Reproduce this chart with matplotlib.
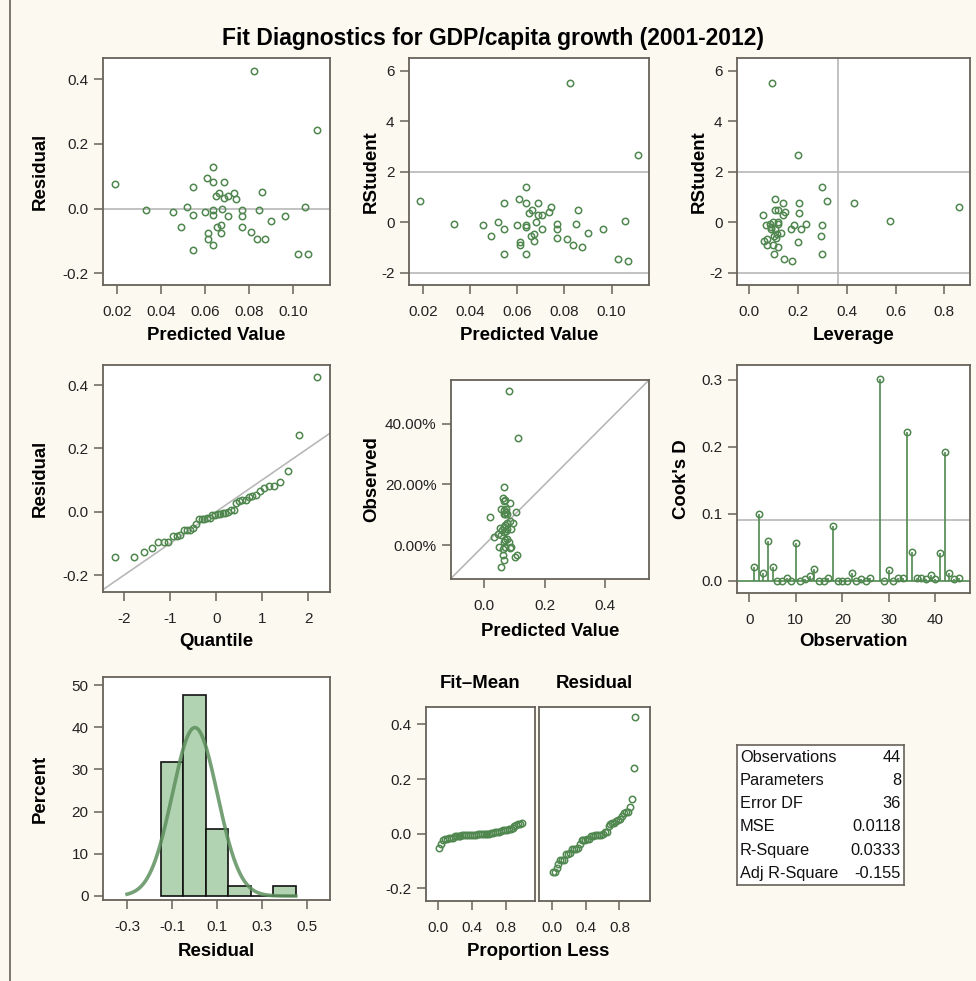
import numpy as np
import matplotlib.pyplot as plt
from statistics import NormalDist

plt.rcParams['font.family'] = ['Liberation Sans', 'DejaVu Sans']
plt.rcParams['axes.unicode_minus'] = False

# values, one entry per observation (sorted by predicted value)
predicted = [0.0189, 0.0331, 0.0455, 0.0490, 0.0519, 0.0546, 0.0546, 0.0546, 0.0601, 0.0607,
             0.0614, 0.0614, 0.0637, 0.0637, 0.0637, 0.0637, 0.0637, 0.0649, 0.0664, 0.0657,
             0.0672, 0.0672, 0.0678, 0.0686, 0.0686, 0.0707, 0.0707, 0.0734, 0.0742, 0.0769,
             0.0769, 0.0769, 0.0812, 0.0824, 0.0838, 0.0847, 0.0859, 0.0874, 0.0901, 0.0965,
             0.1026, 0.1055, 0.1068, 0.1111]
residual = [0.075, -0.005, -0.010, -0.057, 0.005, 0.066, -0.020, -0.127, -0.010, 0.096,
            -0.075, -0.095, 0.081, 0.128, -0.004, -0.019, -0.113, 0.039, 0.049, -0.057,
            -0.051, -0.075, 0.000, 0.081, 0.034, 0.039, -0.023, 0.047, 0.029, -0.004,
            -0.023, -0.057, -0.071, 0.426, -0.095, -0.005, 0.052, -0.095, -0.038, -0.023,
            -0.141, 0.005, -0.141, 0.242]
rstudent = [0.845, -0.066, -0.119, -0.541, 0.000, 0.779, -0.251, -1.267, -0.119, 0.911,
            -0.779, -0.911, 0.779, 1.386, -0.119, -0.185, -1.267, 0.356, 0.488, -0.541,
            -0.475, -0.739, 0.000, 0.779, 0.304, 0.304, -0.251, 0.422, 0.607, -0.066,
            -0.251, -0.607, -0.673, 5.505, -0.911, -0.066, 0.488, -0.977, -0.422, -0.251,
            -1.452, 0.053, -1.518, 2.653]
leverage = [0.318, 0.232, 0.300, 0.294, 0.098, 0.137, 0.171, 0.300, 0.183, 0.106,
            0.199, 0.074, 0.206, 0.300, 0.068, 0.090, 0.100, 0.206, 0.106, 0.100,
            0.115, 0.061, 0.120, 0.431, 0.055, 0.139, 0.213, 0.146, 0.859, 0.085,
            0.090, 0.110, 0.075, 0.094, 0.098, 0.120, 0.120, 0.120, 0.130, 0.105,
            0.143, 0.576, 0.175, 0.199]

obs_number = list(range(1, 27)) + list(range(28, 46))
cooks_d = [0.020, 0.100, 0.011, 0.059, 0.020, 0.000, 0.000, 0.0045, 0.000, 0.057,
           0.000, 0.0025, 0.007, 0.018, 0.000, 0.000, 0.0045, 0.082, 0.000, 0.000,
           0.000, 0.011, 0.000, 0.0025, 0.000, 0.0045, 0.302, 0.000, 0.0155, 0.000,
           0.0045, 0.0045, 0.222, 0.043, 0.0045, 0.0045, 0.0025, 0.009, 0.0025, 0.041,
           0.192, 0.011, 0.0025, 0.0045]

stat_names = ['Observations', 'Parameters', 'Error DF', 'MSE', 'R-Square', 'Adj R-Square']
stat_values = ['44', '8', '36', '0.0118', '0.0333', '-0.155']
n_obs, n_par = 44, 8

predicted = np.array(predicted)
residual = np.array(residual)
observed = predicted + residual

W, H = 976, 981
BG = '#FCF9F1'
FRAME = '#67625A'
GREEN = '#4F874F'
REF = '#B8B8B8'

fig = plt.figure(figsize=(W / 100, H / 100), dpi=100, facecolor=BG)


def box(l, r, t, b):
    ax = fig.add_axes([l / W, 1 - b / H, (r - l) / W, (b - t) / H])
    ax.px = (l, r, t, b)
    return ax


def style(ax, xl=None, yl=None, xl_y=None, yl_x=None):
    l, r, t, b = ax.px
    ax.set_facecolor('white')
    for s in ax.spines.values():
        s.set_color(FRAME)
        s.set_linewidth(1.3)
    ax.tick_params(direction='out', length=6.5, width=1.1, color=FRAME,
                   labelsize=11, labelcolor='#222222')
    ax.tick_params(axis='x', pad=8)
    ax.tick_params(axis='y', pad=4)
    if xl:
        ax.set_xlabel(xl, fontsize=13.4, fontweight='bold', va='center')
        ax.xaxis.set_label_coords(0.5, -(xl_y - b) / (b - t))
    if yl:
        ax.set_ylabel(yl, fontsize=13.4, fontweight='bold', va='center')
        ax.yaxis.set_label_coords((yl_x - l) / (r - l), 0.5)


def dots(ax, x, y):
    ax.plot(x, y, 'o', ms=4.6, mfc='none', mec=GREEN, mew=1.1, zorder=3)


def fmt(ax, xt, xlab, yt, ylab):
    ax.set_xticks(xt)
    ax.set_xticklabels(xlab)
    ax.set_yticks(yt)
    ax.set_yticklabels(ylab)


fig.text(493 / W, 1 - 38 / H, 'Fit Diagnostics for GDP/capita growth (2001-2012)',
         ha='center', va='center', fontsize=16.5, fontweight='bold')
fig.add_artist(plt.Line2D([10 / W, 10 / W], [0, 1], color=FRAME, lw=1.2))

# residual vs predicted
ax = box(103, 330, 58, 285)
ax.axhline(0, color=REF, lw=1.2, zorder=1)
dots(ax, predicted, residual)
ax.set_xlim(0.0135, 0.117)
ax.set_ylim(-0.2355, 0.465)
fmt(ax, [0.02, 0.04, 0.06, 0.08, 0.10], ['0.02', '0.04', '0.06', '0.08', '0.10'],
    [-0.2, 0, 0.2, 0.4], ['-0.2', '0.0', '0.2', '0.4'])
style(ax, 'Predicted Value', 'Residual', 335, 40)

# rstudent vs predicted
ax = box(409, 649, 58, 285)
for v in (-2, 2):
    ax.axhline(v, color=REF, lw=1.2, zorder=1)
dots(ax, predicted, rstudent)
ax.set_xlim(0.0142, 0.1158)
ax.set_ylim(-2.48, 6.5)
fmt(ax, [0.02, 0.04, 0.06, 0.08, 0.10], ['0.02', '0.04', '0.06', '0.08', '0.10'],
    [-2, 0, 2, 4, 6], ['-2', '0', '2', '4', '6'])
style(ax, 'Predicted Value', 'RStudent', 335, 371)

# rstudent vs leverage
ax = box(737, 970, 58, 285)
for v in (-2, 2):
    ax.axhline(v, color=REF, lw=1.2, zorder=1)
ax.axvline(2 * n_par / n_obs, color=REF, lw=1.2, zorder=1)
dots(ax, leverage, rstudent)
ax.set_xlim(-0.05, 0.905)
ax.set_ylim(-2.48, 6.5)
fmt(ax, [0, 0.2, 0.4, 0.6, 0.8], ['0.0', '0.2', '0.4', '0.6', '0.8'],
    [-2, 0, 2, 4, 6], ['-2', '0', '2', '4', '6'])
style(ax, 'Leverage', 'RStudent', 335, 699)

# normal quantile plot of residuals
sd = residual.std(ddof=1)
mu = residual.mean()
qx = [NormalDist().inv_cdf((i - 0.375) / (n_obs + 0.25)) for i in range(1, n_obs + 1)]
ax = box(103, 330, 365, 592)
ax.plot([-3, 3], [mu - 3 * sd, mu + 3 * sd], color=REF, lw=1.2, zorder=1)
dots(ax, qx, np.sort(residual))
ax.set_xlim(-2.46, 2.47)
ax.set_ylim(-0.252, 0.463)
fmt(ax, [-2, -1, 0, 1, 2], ['-2', '-1', '0', '1', '2'],
    [-0.2, 0, 0.2, 0.4], ['-0.2', '0.0', '0.2', '0.4'])
style(ax, 'Quantile', 'Residual', 642, 40)

# observed vs predicted
ax = box(451, 649, 380, 579)
ax.plot([-0.11, 0.545], [-0.11, 0.545], color=REF, lw=1.2, zorder=1)
dots(ax, predicted, observed)
ax.set_xlim(-0.11, 0.545)
ax.set_ylim(-0.112, 0.545)
fmt(ax, [0, 0.2, 0.4], ['0.0', '0.2', '0.4'],
    [0, 0.2, 0.4], ['0.00%', '20.00%', '40.00%'])
style(ax, 'Predicted Value', 'Observed', 632, 372)

# cook's D
ax = box(737, 970, 365, 593)
ax.axhline(4 / n_obs, color=REF, lw=1.2, zorder=1)
ax.axhline(0, color=GREEN, lw=1.2, zorder=2)
ax.vlines(obs_number, 0, cooks_d, color=GREEN, lw=1.2, zorder=2)
dots(ax, obs_number, cooks_d)
ax.set_xlim(-2.65, 47.45)
ax.set_ylim(-0.0184, 0.3224)
fmt(ax, [0, 10, 20, 30, 40], ['0', '10', '20', '30', '40'],
    [0, 0.1, 0.2, 0.3], ['0.0', '0.1', '0.2', '0.3'])
style(ax, 'Observation', "Cook's D", 642, 682)

# histogram of residuals with normal curve
ax = box(103, 330, 677, 900)
ax.hist(residual, bins=np.arange(-0.15, 0.46, 0.1), weights=np.full(n_obs, 100 / n_obs),
        facecolor='#B1D3B1', edgecolor='#111111', lw=1.2, zorder=2)
gx = np.linspace(-0.3, 0.45, 200)
gy = 100 * 0.1 * np.exp(-0.5 * ((gx - mu) / sd) ** 2) / (sd * np.sqrt(2 * np.pi))
ax.plot(gx, gy, color='#5E905E', lw=2.6, alpha=0.85, zorder=3)
ax.set_xlim(-0.407, 0.602)
ax.set_ylim(-0.95, 51.9)
fmt(ax, [-0.3, -0.1, 0.1, 0.3, 0.5], ['-0.3', '-0.1', '0.1', '0.3', '0.5'],
    [0, 10, 20, 30, 40, 50], ['0', '10', '20', '30', '40', '50'])
style(ax, 'Residual', 'Percent', 951, 40)

# residual-fit spread plot
prop = (np.arange(1, n_obs + 1) - 0.5) / n_obs
ax1 = box(426, 535, 707, 901)
dots(ax1, prop, np.sort(predicted - predicted.mean()))
ax2 = box(539, 650, 707, 901)
dots(ax2, prop, np.sort(residual))
for a, xl, title in ((ax1, (-0.145, 1.14), 'Fit\u2013Mean'), (ax2, (-0.15, 1.16), 'Residual')):
    a.set_xlim(*xl)
    a.set_ylim(-0.247, 0.464)
    fmt(a, [0, 0.4, 0.8], ['0.0', '0.4', '0.8'],
        [-0.2, 0, 0.2, 0.4], ['-0.2', '0.0', '0.2', '0.4'])
    style(a)
    a.text(0.5, 1 + 23 / 194, title, transform=a.transAxes, ha='center', va='center',
           fontsize=13.4, fontweight='bold')
ax2.tick_params(axis='y', left=False, labelleft=False)
fig.text(538 / W, 1 - 951 / H, 'Proportion Less', ha='center', va='center',
         fontsize=13.4, fontweight='bold')

# fit statistics table
tb = box(737, 904, 745, 885)
tb.set_facecolor('white')
tb.set_xticks([])
tb.set_yticks([])
for s in tb.spines.values():
    s.set_color(FRAME)
    s.set_linewidth(1.2)
for i, (name, val) in enumerate(zip(stat_names, stat_values)):
    y = 1 - (12 + i * 23.3) / 140
    tb.text(0.018, y, name, ha='left', va='center', fontsize=11.8, color='#111111')
    tb.text(0.982, y, val, ha='right', va='center', fontsize=11.8, color='#111111')

fig.savefig('out.png', dpi=100, facecolor=BG)
